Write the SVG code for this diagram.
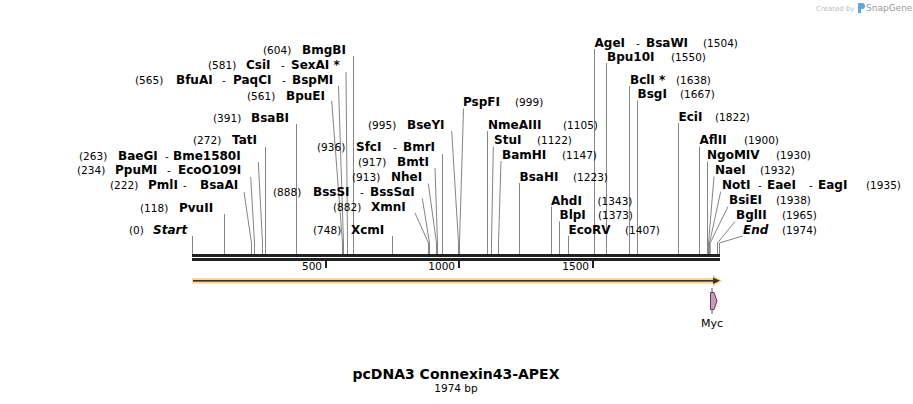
<svg xmlns="http://www.w3.org/2000/svg" width="913" height="404" viewBox="0 0 913 404">
<style>
text{font-family:"DejaVu Sans",Verdana,sans-serif;fill:#000}
.n{font-size:12px;font-weight:bold}
.ni{font-size:12px;font-weight:bold;font-style:italic}
.p{font-size:10.5px}
.c polyline{stroke:#858585;stroke-width:1;fill:none}
.t{font-size:10.5px;text-anchor:end}
</style>
<rect width="913" height="404" fill="#fff"/>
<g id="credit">
<text x="816" y="11" style="font-size:7px;fill:#bbb">Created by</text>
<path d="M858,3 h4 a3,3 0 0 1 0,6 h-1 v4 h-3 z" fill="#5aa9e6"/>
<text x="866" y="11" style="font-size:9px;fill:#9a9a9a">SnapGene</text>
</g>
<g id="connectors" class="c">
<polyline points="192.5,236 192.5,254"/>
<polyline points="224.5,214 224.5,254"/>
<polyline points="244,192 251.5,243 251.5,254"/>
<polyline points="250.7,177 254.5,243 254.5,254"/>
<polyline points="258.3,162 262.5,243 262.5,254"/>
<polyline points="265.5,147 265.5,254"/>
<polyline points="296.5,124 296.5,254"/>
<polyline points="331.7,101 342.5,243 342.5,254"/>
<polyline points="338.5,86 343.5,243 343.5,254"/>
<polyline points="346,72 347.5,243 347.5,254"/>
<polyline points="353.5,56 353.5,254"/>
<polyline points="392.5,236 392.5,254"/>
<polyline points="415,213 428.5,243 428.5,254"/>
<polyline points="422.3,198.5 429.5,243 429.5,254"/>
<polyline points="428.3,183.5 436.5,243 436.5,254"/>
<polyline points="435,168 437.5,243 437.5,254"/>
<polyline points="442.5,154 442.5,254"/>
<polyline points="451.7,131 458.5,243 458.5,254"/>
<polyline points="463.5,108.5 459.5,243 459.5,254"/>
<polyline points="487.5,131 487.5,254"/>
<polyline points="493.3,146.5 491.5,243 491.5,254"/>
<polyline points="501,161 498.5,243 498.5,254"/>
<polyline points="519.5,183 519.5,254"/>
<polyline points="551.5,206.5 551.5,254"/>
<polyline points="559.5,221.5 559.5,254"/>
<polyline points="568.5,236 568.5,254"/>
<polyline points="594.5,49 594.5,254"/>
<polyline points="606.5,63 606.5,254"/>
<polyline points="629.5,86 629.5,254"/>
<polyline points="637.5,100.5 637.5,254"/>
<polyline points="678.5,123 678.5,254"/>
<polyline points="699.5,146.5 699.5,254"/>
<polyline points="707.5,161.5 707.5,254"/>
<polyline points="714,176.5 708.5,243 708.5,254"/>
<polyline points="720.7,191.5 709.5,243 709.5,254"/>
<polyline points="728,206.5 710.2,243 710.2,254"/>
<polyline points="735,221.5 717.5,243 717.5,254"/>
<polyline points="742.5,236 719.5,243 719.5,254"/>
</g>
<g id="backbone">
<rect x="192" y="254" width="528" height="3" fill="#222"/>
<rect x="192" y="258" width="528" height="3" fill="#222"/>
<rect x="325" y="261" width="2" height="7" fill="#222"/>
<rect x="458" y="261" width="2" height="7" fill="#222"/>
<rect x="592" y="261" width="2" height="7" fill="#222"/>
<text class="t" x="322" y="270">500</text>
<text class="t" x="455" y="270">1000</text>
<text class="t" x="589" y="270">1500</text>
</g>
<g id="orf">
<polygon points="192,278 713,278 713,275 722,280.7 713,286.5 713,283.5 192,283.5" fill="#fbd38c"/>
<rect x="193" y="280" width="521" height="1.6" fill="#3a3326"/>
<polygon points="713,277.5 720,280.8 713,284" fill="#3a3326"/>
</g>
<g id="myc">
<line x1="712" y1="288" x2="712" y2="292" stroke="#555"/>
<line x1="712" y1="310" x2="712" y2="314" stroke="#555"/>
<polygon points="710.5,292.5 714,292.5 717,301 714,309.5 710.5,309.5" fill="#c99bb8" stroke="#5a4050"/>
<text x="712" y="327" text-anchor="middle" style="font-size:11px">Myc</text>
</g>
<g id="Start"><text class="p" x="129" y="234">(0)</text><text class="ni" x="153" y="234">Start</text></g>
<g id="PvuII"><text class="p" x="140" y="212">(118)</text><text class="n" x="179" y="212">PvuII</text></g>
<g id="PmlI"><text class="p" x="110" y="189">(222)</text><text class="n" x="148" y="189">PmlI</text><text class="p" x="183" y="189">-</text><text class="n" x="200" y="189">BsaAI</text></g>
<g id="PpuMI"><text class="p" x="77" y="174">(234)</text><text class="n" x="115" y="174">PpuMI</text><text class="p" x="167" y="174">-</text><text class="n" x="178" y="174">EcoO109I</text></g>
<g id="BaeGI"><text class="p" x="79" y="159.5">(263)</text><text class="n" x="118" y="159.5">BaeGI</text><text class="p" x="165" y="159.5">-</text><text class="n" x="173" y="159.5">Bme1580I</text></g>
<g id="TatI"><text class="p" x="193" y="144">(272)</text><text class="n" x="232" y="144">TatI</text></g>
<g id="BsaBI"><text class="p" x="213" y="122">(391)</text><text class="n" x="251" y="122">BsaBI</text></g>
<g id="BpuEI"><text class="p" x="247" y="99.5">(561)</text><text class="n" x="286" y="99.5">BpuEI</text></g>
<g id="BfuAI"><text class="p" x="135" y="84">(565)</text><text class="n" x="176" y="84">BfuAI</text><text class="p" x="222" y="84">-</text><text class="n" x="233" y="84">PaqCI</text><text class="p" x="282" y="84">-</text><text class="n" x="292" y="84">BspMI</text></g>
<g id="CsiI"><text class="p" x="208" y="69">(581)</text><text class="n" x="246" y="69">CsiI</text><text class="p" x="281" y="69">-</text><text class="n" x="291" y="69">SexAI *</text></g>
<g id="BmgBI"><text class="p" x="263" y="54">(604)</text><text class="n" x="302" y="54">BmgBI</text></g>
<g id="XcmI"><text class="p" x="313" y="234">(748)</text><text class="n" x="351" y="234">XcmI</text></g>
<g id="XmnI"><text class="p" x="333" y="211">(882)</text><text class="n" x="371" y="211">XmnI</text></g>
<g id="BssSI"><text class="p" x="273" y="196">(888)</text><text class="n" x="313" y="196">BssSI</text><text class="p" x="360" y="196">-</text><text class="n" x="370" y="196">BssSαI</text></g>
<g id="NheI"><text class="p" x="352" y="181">(913)</text><text class="n" x="391" y="181">NheI</text></g>
<g id="BmtI"><text class="p" x="358" y="165.5">(917)</text><text class="n" x="397" y="165.5">BmtI</text></g>
<g id="SfcI"><text class="p" x="317" y="151">(936)</text><text class="n" x="356" y="151">SfcI</text><text class="p" x="393" y="151">-</text><text class="n" x="403" y="151">BmrI</text></g>
<g id="BseYI"><text class="p" x="368" y="129">(995)</text><text class="n" x="407" y="129">BseYI</text></g>
<g id="PspFI"><text class="n" x="463" y="106">PspFI</text><text class="p" x="515" y="106">(999)</text></g>
<g id="NmeAIII"><text class="n" x="488" y="129">NmeAIII</text><text class="p" x="563" y="129">(1105)</text></g>
<g id="StuI"><text class="n" x="494" y="144">StuI</text><text class="p" x="537" y="144">(1122)</text></g>
<g id="BamHI"><text class="n" x="502" y="159">BamHI</text><text class="p" x="562" y="159">(1147)</text></g>
<g id="BsaHI"><text class="n" x="519.5" y="181">BsaHI</text><text class="p" x="573" y="181">(1223)</text></g>
<g id="AhdI"><text class="n" x="551" y="204.5">AhdI</text><text class="p" x="597.5" y="204.5">(1343)</text></g>
<g id="BlpI"><text class="n" x="559.5" y="219">BlpI</text><text class="p" x="598" y="219">(1373)</text></g>
<g id="EcoRV"><text class="n" x="568.5" y="234">EcoRV</text><text class="p" x="625" y="234">(1407)</text></g>
<g id="AgeI"><text class="n" x="594.5" y="47">AgeI</text><text class="p" x="636" y="47">-</text><text class="n" x="646" y="47">BsaWI</text><text class="p" x="703" y="47">(1504)</text></g>
<g id="Bpu10I"><text class="n" x="607" y="61">Bpu10I</text><text class="p" x="671" y="61">(1550)</text></g>
<g id="BclI"><text class="n" x="630" y="84">BclI *</text><text class="p" x="676" y="84">(1638)</text></g>
<g id="BsgI"><text class="n" x="637.5" y="98">BsgI</text><text class="p" x="680" y="98">(1667)</text></g>
<g id="EciI"><text class="n" x="678.5" y="121">EciI</text><text class="p" x="715" y="121">(1822)</text></g>
<g id="AflII"><text class="n" x="699.5" y="144">AflII</text><text class="p" x="744" y="144">(1900)</text></g>
<g id="NgoMIV"><text class="n" x="707" y="159">NgoMIV</text><text class="p" x="776" y="159">(1930)</text></g>
<g id="NaeI"><text class="n" x="715" y="174">NaeI</text><text class="p" x="760" y="174">(1932)</text></g>
<g id="NotI"><text class="n" x="722" y="189">NotI</text><text class="p" x="758" y="189">-</text><text class="n" x="767" y="189">EaeI</text><text class="p" x="809" y="189">-</text><text class="n" x="818" y="189">EagI</text><text class="p" x="866" y="189">(1935)</text></g>
<g id="BsiEI"><text class="n" x="729" y="204">BsiEI</text><text class="p" x="776" y="204">(1938)</text></g>
<g id="BglII"><text class="n" x="736" y="219">BglII</text><text class="p" x="782" y="219">(1965)</text></g>
<g id="End"><text class="ni" x="743" y="234">End</text><text class="p" x="782" y="234">(1974)</text></g>
<g id="title">
<text x="456" y="379" text-anchor="middle" style="font-size:14px;font-weight:bold">pcDNA3 Connexin43-APEX</text>
<text x="456" y="392" text-anchor="middle" style="font-size:10.5px">1974 bp</text>
</g>
</svg>
